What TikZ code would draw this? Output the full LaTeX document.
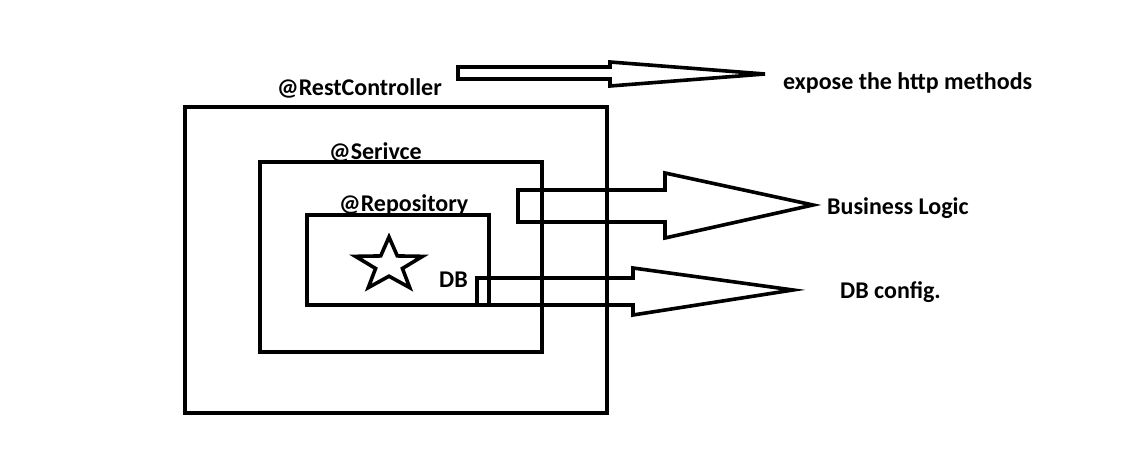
\documentclass[tikz,border=0pt]{standalone}
\usepackage{fontspec}
\setmainfont{Carlito}
\usetikzlibrary{calc,shapes.geometric}
\definecolor{ink}{HTML}{000000}
\tikzset{
  frame/.style={draw=ink,line width=4pt,inner sep=0pt,outer sep=0pt,anchor=south west},
  lbl/.style={font=\bfseries\fontsize{24}{28}\selectfont,text=ink,inner sep=0pt,anchor=base west},
  blk/.style={draw=ink,line width=3.6pt,line join=miter},
}

\begin{document}
\begin{tikzpicture}[x=1pt,y=1pt]
  \useasboundingbox[fill=white] (0,0) rectangle (1133,460);
  % nested boxes
  \node[frame,minimum width=422pt,minimum height=306pt] (rest) at (185,47) {};
  \node[frame,minimum width=282pt,minimum height=190pt] (svc) at (260,108) {};
  \node[frame,minimum width=182pt,minimum height=90pt] (repo) at (307,155) {};
  \begin{scope}[shift={(389,195)},xscale=1.26]
    \node[star,star points=5,star point ratio=2.5,draw=ink,line width=3.6pt,minimum size=56pt,inner sep=0pt,transform shape] (db star) at (0,0) {};
  \end{scope}
  \node[lbl] (rest lbl) at (277,364) {@RestController};
  \node[lbl] (svc lbl) at (329,300) {@Serivce};
  \node[lbl] (repo lbl) at (339,248) {@Repository};
  \node[lbl] (db lbl) at (439,172) {DB};
  % right side texts
  \node[lbl] (http) at (783,370) {expose the http methods};
  \node[lbl] (logic) at (827,245) {Business Logic};
  \node[lbl] (dbcfg) at (840,161) {DB config.};
  % block arrows
  \coordinate (t1) at (458,387); \coordinate (p1) at (765,386);
  \coordinate (t2) at (518,254); \coordinate (p2) at (813,255);
  \coordinate (t3) at (477,168); \coordinate (p3) at (793,170);
  \draw[blk] ($(t1)+(0,6)$) -- ++(152,0) -- ++(0,5) -- (p1) -- ($(p1)+(-155,-12)$) -- ++(0,7) -- ($(t1)+(0,-6)$) -- cycle;
  \draw[blk] ($(t2)+(0,16)$) -- ++(147,0) -- ++(0,17) -- (p2) -- ($(p2)+(-148,-33)$) -- ++(0,16) -- ($(t2)+(0,-16)$) -- cycle;
  \draw[blk] ($(t3)+(0,14)$) -- ++(156,0) -- ++(0,10) -- (p3) -- ($(p3)+(-160,-25)$) -- ++(0,10) -- ($(t3)+(0,-13)$) -- cycle;
\end{tikzpicture}
\end{document}
